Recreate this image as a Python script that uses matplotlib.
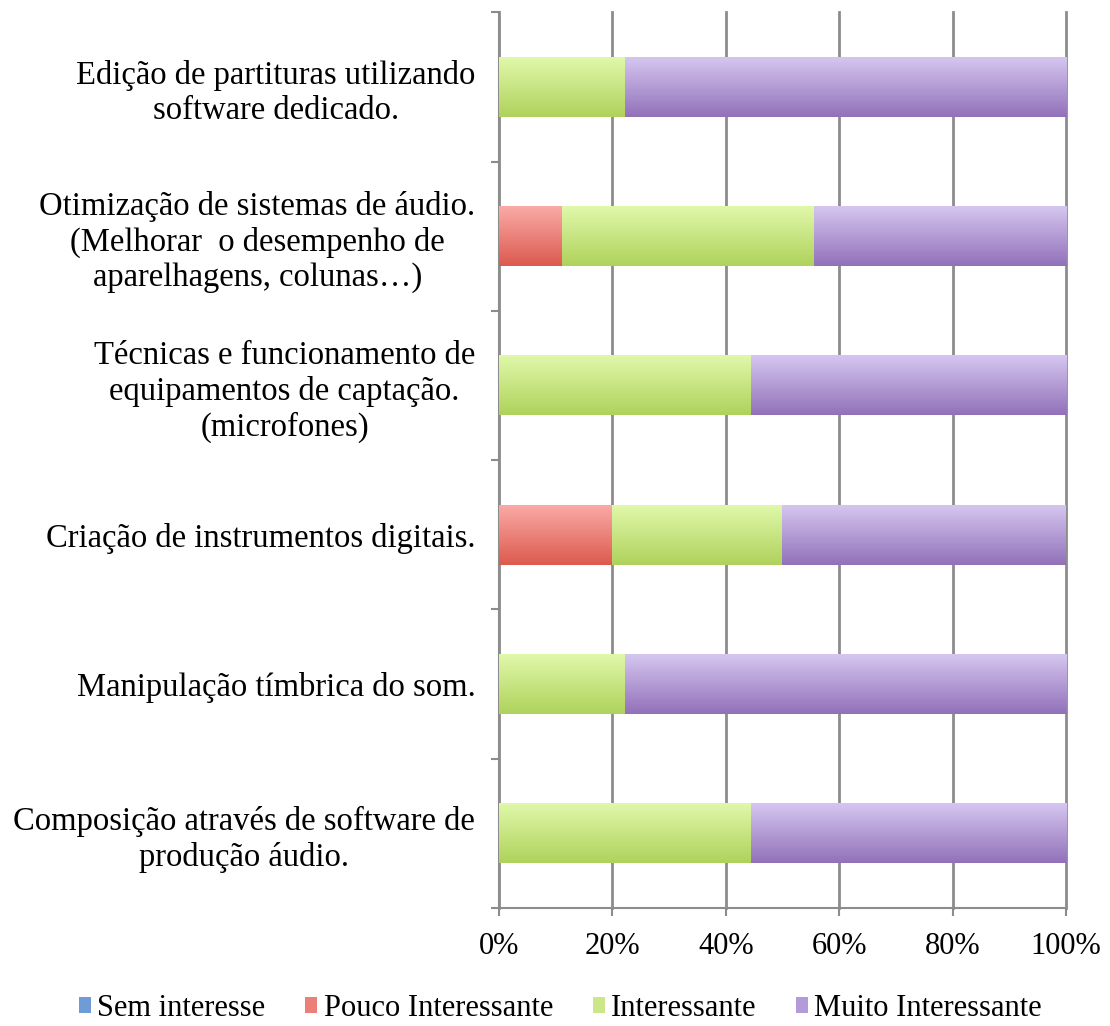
import numpy as np
import matplotlib
matplotlib.use("Agg")
import matplotlib.pyplot as plt
from matplotlib.colors import LinearSegmentedColormap
from matplotlib.patches import Patch
from matplotlib.ticker import FixedLocator, PercentFormatter

# categories from bottom to top
categories = [
    "Composição através de software de\nprodução áudio.",
    "Manipulação tímbrica do som.",
    "Criação de instrumentos digitais.",
    "Técnicas e funcionamento de\nequipamentos de captação.\n(microfones)",
    "Otimização de sistemas de áudio.\n(Melhorar  o desempenho de\naparelhagens, colunas…)",
    "Edição de partituras utilizando\nsoftware dedicado.",
]
series_names = ["Sem interesse", "Pouco Interessante", "Interessante", "Muito Interessante"]
sem_interesse = [0, 0, 0, 0, 0, 0]
pouco_interessante = [0, 0, 20.0, 0, 11.1, 0]
interessante = [44.4, 22.2, 30.0, 44.4, 44.4, 22.2]
muito_interessante = [55.6, 77.8, 50.0, 55.6, 44.5, 77.8]

# (top colour, bottom colour) for the gradient fill
grad_colors = [("#a9c6ec", "#4a7ebb"),
               ("#faaaa6", "#dc5a4f"),
               ("#e0f8aa", "#afd25c"),
               ("#d5c6f0", "#9271b9")]
legend_colors = ["#6f9bd6", "#ec7f78", "#cbe788", "#b39ad8"]

plt.rcParams['font.family'] = ['Liberation Serif', 'DejaVu Serif']

fig = plt.figure(figsize=(11.1, 10.26), dpi=100)
ax = fig.add_axes([0.4495, 0.115, 0.5109, 0.873])

ypos = np.arange(len(categories))
bar_h = 0.4
left = np.zeros(len(categories))
grad = np.linspace(0, 1, 64).reshape(-1, 1)
for vals, (top, bottom) in zip([sem_interesse, pouco_interessante, interessante, muito_interessante], grad_colors):
    cmap = LinearSegmentedColormap.from_list("g", [bottom, top])
    rects = ax.barh(ypos, vals, bar_h, left=left, color="none", edgecolor="none")
    for r in rects:
        w = r.get_width()
        if w <= 0:
            continue
        x0, y0 = r.get_x(), r.get_y()
        ax.imshow(grad, extent=[x0, x0 + w, y0, y0 + r.get_height()], origin="lower",
                  aspect="auto", cmap=cmap, zorder=3, interpolation="bilinear")
    left = left + np.array(vals)

ax.set_xlim(0, 100)
ax.set_ylim(-0.5, len(categories) - 0.5)

gray = "#8c8c8c"
ax.set_xticks(np.arange(0, 101, 20))
ax.xaxis.set_major_formatter(PercentFormatter(decimals=0))
ax.grid(axis="x", color=gray, linewidth=2, zorder=0)
ax.set_axisbelow(True)
for gl in ax.xaxis.get_gridlines():
    gl.set_clip_on(False)

ax.set_yticks(ypos)
ax.set_yticklabels(categories, multialignment="center")
ax.yaxis.set_minor_locator(FixedLocator(np.arange(-0.5, len(categories), 1)))
ax.tick_params(axis="y", which="major", length=0, pad=17, labelsize=23.5)
ax.tick_params(axis="y", which="minor", length=6, width=1.5, color=gray)
ax.tick_params(axis="x", which="major", length=6, width=1.5, color=gray, pad=11, labelsize=22)

for s in ["top", "right"]:
    ax.spines[s].set_visible(False)
for s in ["left", "bottom"]:
    ax.spines[s].set_color(gray)
    ax.spines[s].set_linewidth(1.5)

handles = [Patch(facecolor=c, edgecolor="none") for c in legend_colors]
fig.legend(handles, series_names, loc="center", bbox_to_anchor=(0.505, 0.017), ncol=4,
           frameon=False, fontsize=22, handlelength=0.4, handleheight=0.4,
           handletextpad=0.2, columnspacing=1.3)

plt.savefig("out.png", dpi=100)
